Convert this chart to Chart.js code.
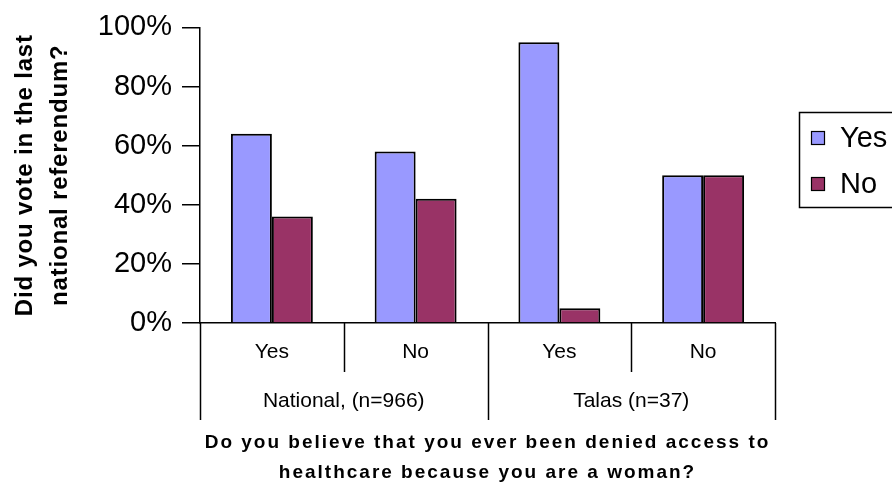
<!DOCTYPE html>
<html>
<head>
<meta charset="utf-8">
<script src="https://cdn.jsdelivr.net/npm/chart.js@4.4.1/dist/chart.umd.min.js"></script>
<style>
  html, body { margin: 0; padding: 0; background: #fff; overflow: hidden; }
  #wrap { width: 892px; height: 482px; }
</style>
</head>
<body>
<div id="wrap"><canvas id="chart" width="892" height="482"></canvas></div>
<script>
// Answers to "denied access to healthcare" (inner categories), grouped by sample
const categories = ['Yes', 'No', 'Yes', 'No'];
const groups = ['National, (n=966)', 'Talas (n=37)'];
const groupSize = 2;

// Share who voted in the last national referendum
const seriesNames = ['Yes', 'No'];
const votedYes = [0.64, 0.58, 0.95, 0.50];
const votedNo  = [0.36, 0.42, 0.05, 0.50];
const seriesColors = ['#9999FF', '#993366'];

const yTicks = [0, 0.2, 0.4, 0.6, 0.8, 1.0];
const yTitle = ['Did you vote in the last', 'national referendum?'];
const xTitle = ['Do you believe that you ever been denied access to',
                'healthcare because you are a woman?'];

const FONT = '"Liberation Sans", Arial, Helvetica, sans-serif';

// Group dividers, group names, axis titles and the boxed legend
const decorations = {
  id: 'decorations',
  afterDraw(chart) {
    const ctx = chart.ctx;
    const x = chart.scales.x;
    const area = chart.chartArea;
    const n = categories.length;
    const catW = x.width / n;
    const edge = i => (i < n ? x.getPixelForValue(i) - catW / 2 : x.getPixelForValue(n - 1) + catW / 2);

    ctx.save();
    ctx.strokeStyle = '#000';
    ctx.lineWidth = 1.5;
    for (let i = 0; i <= n; i++) {
      const px = Math.round(edge(i)) + 0.5;
      const bottom = (i % groupSize === 0) ? 420 : 372;
      ctx.beginPath();
      ctx.moveTo(px, area.bottom);
      ctx.lineTo(px, bottom);
      ctx.stroke();
    }

    ctx.fillStyle = '#000';
    ctx.font = '21px ' + FONT;
    ctx.textAlign = 'center';
    ctx.textBaseline = 'alphabetic';
    groups.forEach((g, gi) => {
      const cx = (edge(gi * groupSize) + edge((gi + 1) * groupSize)) / 2;
      ctx.fillText(g, cx, 407);
    });

    // bottom axis title
    ctx.font = 'bold 19px ' + FONT;
    ctx.letterSpacing = '2px';
    const midX = (area.left + area.right) / 2;
    ctx.fillText(xTitle[0], midX, 448);
    ctx.fillText(xTitle[1], midX, 478);

    // left axis title, rotated
    ctx.font = 'bold 24px ' + FONT;
    ctx.letterSpacing = '0.8px';
    const midY = (area.top + area.bottom) / 2;
    [32, 67].forEach((bx, li) => {
      ctx.save();
      ctx.translate(bx, midY);
      ctx.rotate(-Math.PI / 2);
      ctx.fillText(yTitle[li], 0, 0);
      ctx.restore();
    });
    ctx.letterSpacing = '0px';

    // legend (its box runs past the right edge of the canvas)
    ctx.lineWidth = 1.5;
    ctx.strokeRect(799.5, 112.5, 130, 95);
    ctx.font = '29px ' + FONT;
    ctx.textAlign = 'left';
    const rows = [147, 193];
    seriesNames.forEach((name, si) => {
      const base = rows[si];
      ctx.fillStyle = seriesColors[si];
      ctx.fillRect(811, base - 16, 14, 14);
      ctx.lineWidth = 1.2;
      ctx.strokeRect(811.5, base - 15.5, 13, 13);
      ctx.fillStyle = '#000';
      ctx.fillText(name, 840, base);
    });
    ctx.restore();
  }
};

new Chart(document.getElementById('chart'), {
  type: 'bar',
  data: {
    labels: categories,
    datasets: [
      { label: seriesNames[0], data: votedYes, backgroundColor: seriesColors[0],
        borderColor: '#000', borderWidth: 2 },
      { label: seriesNames[1], data: votedNo, backgroundColor: seriesColors[1],
        borderColor: '#000', borderWidth: 2 }
    ]
  },
  options: {
    responsive: false,
    animation: false,
    devicePixelRatio: 1,
    layout: { padding: { top: 27, right: 117, bottom: 0, left: 0 } },
    datasets: { bar: { categoryPercentage: 0.57, barPercentage: 1.0 } },
    plugins: { legend: { display: false }, tooltip: { enabled: false } },
    scales: {
      x: {
        grid: { display: false, drawTicks: false },
        border: { display: true, color: '#000', width: 1.5 },
        ticks: { color: '#000', font: { family: FONT, size: 21 }, padding: 17, maxRotation: 0 },
        afterFit(s) { s.height = 159; }
      },
      y: {
        min: 0, max: 1,
        afterBuildTicks(s) { s.ticks = yTicks.map(v => ({ value: v })); },
        grid: { drawOnChartArea: false, drawTicks: true, tickLength: 18, color: '#000', lineWidth: 1.5 },
        border: { display: true, color: '#000', width: 1.5 },
        ticks: {
          color: '#000', padding: 10,
          font: { family: FONT, size: 29 },
          callback: v => Math.round(v * 100) + '%'
        },
        afterFit(s) { s.width = 200; }
      }
    }
  },
  plugins: [decorations]
});
</script>
</body>
</html>
